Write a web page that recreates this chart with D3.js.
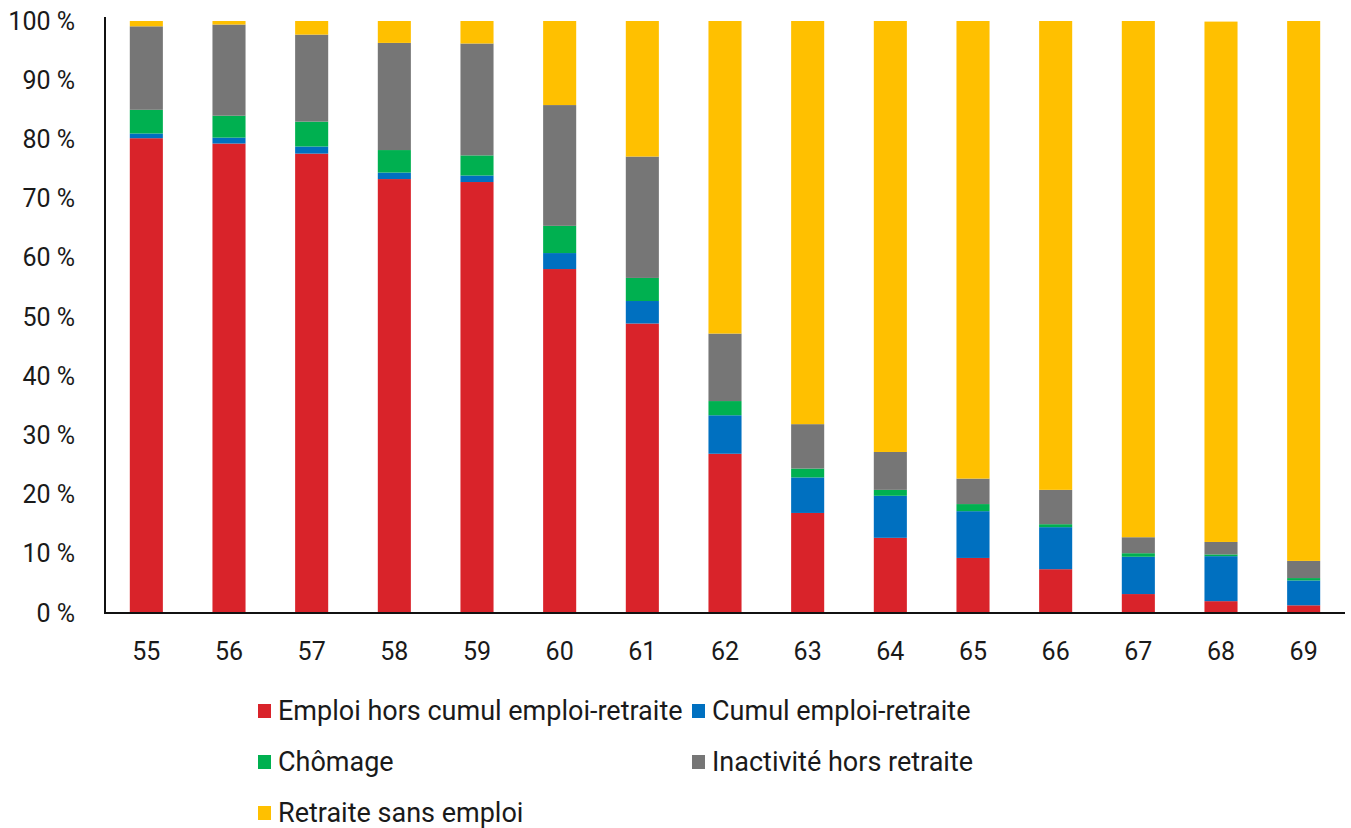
<!DOCTYPE html>
<html>
<head>
<meta charset="utf-8">
<script src="https://cdn.jsdelivr.net/npm/d3@7"></script>
<style>
  html, body { margin: 0; padding: 0; background: #fff; }
  svg { display: block; font-family: Roboto, "Noto Sans", sans-serif; }
</style>
</head>
<body>
<svg id="chart" width="1351" height="828"></svg>
<script>
const ages = ["55","56","57","58","59","60","61","62","63","64","65","66","67","68","69"];
const emploi     = [80.2,79.3,77.6,73.3,72.8,58.1,48.9,26.9,16.9,12.7,9.3,7.4,3.2,2.0,1.3];
const cumul      = [0.8,1.0,1.2,1.1,1.1,2.7,3.8,6.5,6.0,7.1,7.9,7.1,6.3,7.6,4.2];
const chomage    = [4.0,3.7,4.2,3.8,3.4,4.6,3.9,2.4,1.5,1.0,1.2,0.5,0.6,0.3,0.4];
const inactivite = [14.1,15.4,14.7,18.1,18.9,20.4,20.5,11.4,7.5,6.4,4.3,5.8,2.7,2.1,2.9];
const retraite   = [0.9,0.6,2.3,3.7,3.8,14.2,22.9,52.8,68.1,72.8,77.3,79.2,87.2,87.9,91.2];
const seriesNames = ["Emploi hors cumul emploi-retraite","Cumul emploi-retraite","Chômage","Inactivité hors retraite","Retraite sans emploi"];
const seriesColors = ["#D9232A","#0070C0","#00B050","#767676","#FFC000"];
const yTicks = [0,10,20,30,40,50,60,70,80,90,100];

(function () {
const seriesValues = [emploi, cumul, chomage, inactivite, retraite];
const keys = ["k0","k1","k2","k3","k4"];
const rows = ages.map((a, i) => {
  const r = { age: a };
  keys.forEach((k, j) => r[k] = seriesValues[j][i]);
  return r;
});

const svg = d3.select("#chart");
const mLeft = 105, mRight = 1345, mTop = 21, mBottom = 613;

const x = d3.scaleBand().domain(ages).range([mLeft, mRight]).paddingInner(0.6).paddingOuter(0.3);
const y = d3.scaleLinear().domain([0, 100]).range([mBottom, mTop]);
const color = d3.scaleOrdinal().domain(keys).range(seriesColors);

const stacked = d3.stack().keys(keys)(rows);

svg.append("g").selectAll("g")
  .data(stacked).join("g")
  .attr("fill", d => color(d.key))
  .selectAll("rect")
  .data(d => d).join("rect")
  .attr("x", d => x(d.data.age))
  .attr("width", x.bandwidth())
  .attr("y", d => y(d[1]))
  .attr("height", d => y(d[0]) - y(d[1]));

// Y axis
const yAxis = d3.axisLeft(y).tickValues(yTicks).tickSize(0).tickPadding(30).tickFormat(d => d + " %");
const gy = svg.append("g").attr("transform", `translate(${mLeft},0)`).call(yAxis);
gy.select(".domain").remove();
gy.selectAll("text").attr("font-size", 25).attr("fill", "#1a1a1a").attr("font-family", "Roboto, sans-serif");
svg.append("line").attr("x1", mLeft).attr("x2", mLeft).attr("y1", mTop - 4).attr("y2", mBottom + 1)
  .attr("stroke", "#111").attr("stroke-width", 2);

// X axis
const xAxis = d3.axisBottom(x).tickSize(0).tickPadding(29);
const gx = svg.append("g").attr("transform", `translate(0,${mBottom})`).call(xAxis);
gx.select(".domain").remove();
gx.selectAll("text").attr("font-size", 25).attr("fill", "#1a1a1a").attr("font-family", "Roboto, sans-serif");
svg.append("line").attr("x1", mLeft - 1).attr("x2", mRight).attr("y1", mBottom).attr("y2", mBottom)
  .attr("stroke", "#111").attr("stroke-width", 2);

// Legend
const legendPos = [[258, 711], [692, 711], [258, 762], [692, 762], [258, 813]];
const lg = svg.append("g");
seriesNames.forEach((name, i) => {
  const [lx, ly] = legendPos[i];
  lg.append("rect").attr("x", lx).attr("y", ly - 7).attr("width", 13).attr("height", 14).attr("fill", seriesColors[i]);
  lg.append("text").attr("x", lx + 20).attr("y", ly).attr("dy", "0.35em")
    .attr("font-size", 27).attr("fill", "#1a1a1a").text(name);
});
})();
</script>
</body>
</html>
